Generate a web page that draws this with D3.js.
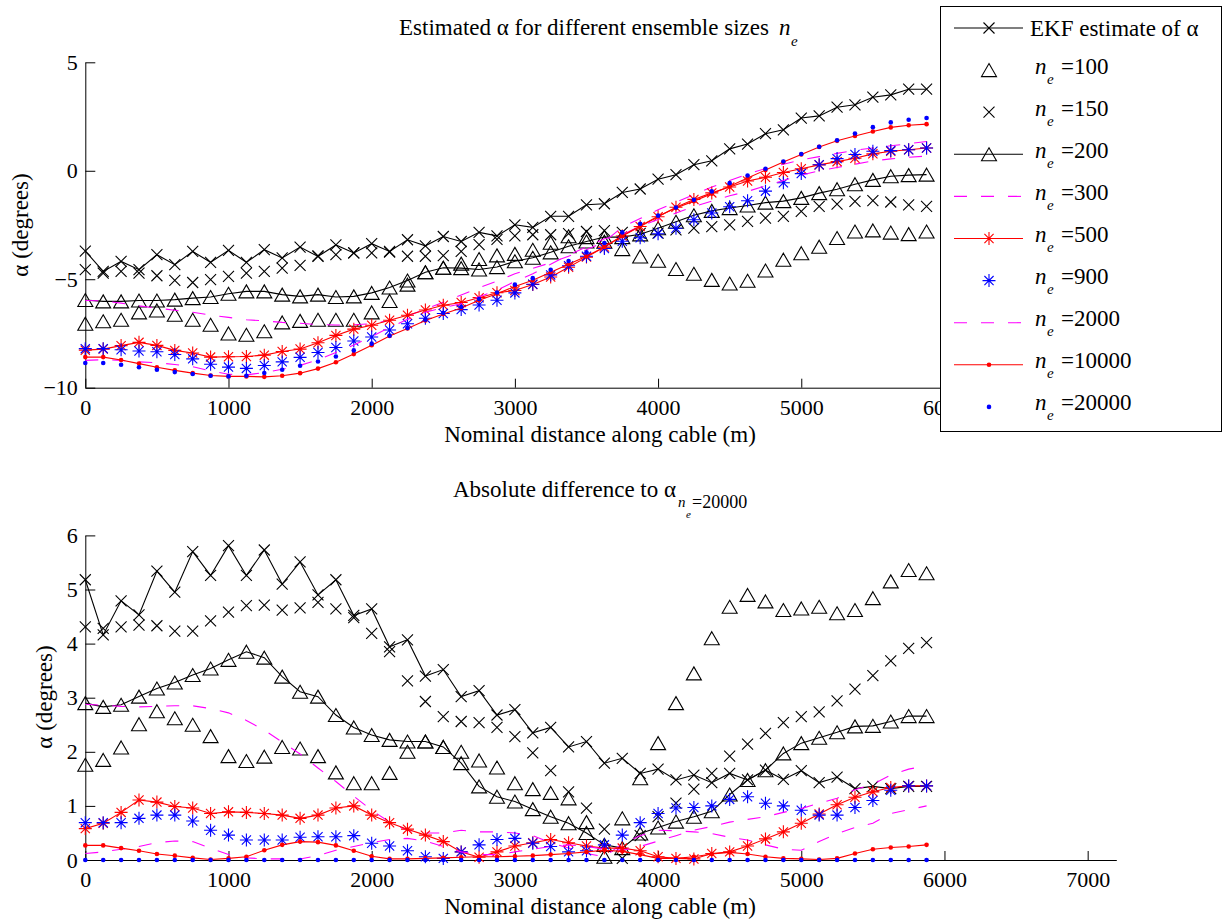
<!DOCTYPE html>
<html><head><meta charset="utf-8">
<script src="https://cdn.jsdelivr.net/npm/d3@7"></script>
<style>
body{margin:0;background:#fff}
svg{display:block}
text{font-family:"Liberation Serif","Times New Roman",serif;fill:#000}
</style>
</head><body>
<svg id="c" width="1223" height="921"></svg>
<script>
// ---------- DATA ----------
const distance = [0,125,250,375,500,625,750,875,1000,1125,1250,1375,1500,1625,1750,1875,2000,2125,2250,2375,2500,2625,2750,2875,3000,3125,3250,3375,3500,3625,3750,3875,4000,4125,4250,4375,4500,4625,4750,4875,5000,5125,5250,5375,5500,5625,5750,5875];

// Top panel: estimated alpha (degrees)
const ekfTop   = [-3.70,-4.64,-4.18,-4.56,-3.87,-4.33,-3.72,-4.22,-3.67,-4.22,-3.64,-4.02,-3.52,-3.95,-3.42,-3.79,-3.36,-3.72,-3.18,-3.46,-3.03,-3.26,-2.84,-3.00,-2.49,-2.61,-2.10,-2.10,-1.57,-1.52,-1.00,-0.84,-0.39,-0.18,0.28,0.46,1.01,1.23,1.71,1.89,2.43,2.53,2.93,3.04,3.39,3.50,3.76,3.76];
const n100Top  = [-7.05,-6.94,-6.87,-6.53,-6.44,-6.64,-6.87,-7.10,-7.50,-7.56,-7.40,-6.99,-6.92,-6.87,-6.87,-6.87,-6.53,-6.00,-5.25,-4.68,-4.47,-4.28,-4.07,-3.90,-3.83,-3.64,-3.32,-3.02,-3.06,-3.27,-3.61,-3.95,-4.15,-4.53,-4.75,-5.03,-5.20,-5.07,-4.60,-4.10,-3.80,-3.50,-3.10,-2.80,-2.75,-2.85,-2.92,-2.80];
const n150Top  = [-4.56,-4.72,-4.64,-4.72,-4.84,-5.05,-5.15,-5.02,-4.87,-4.72,-4.64,-4.49,-4.36,-3.92,-3.87,-3.79,-3.79,-3.75,-3.94,-3.94,-3.91,-3.72,-3.40,-3.16,-3.00,-2.95,-2.95,-2.90,-2.80,-2.76,-2.84,-2.89,-2.87,-2.72,-2.64,-2.57,-2.49,-2.33,-2.18,-2.10,-1.87,-1.64,-1.54,-1.41,-1.38,-1.44,-1.57,-1.64];
const n200Top  = [-5.96,-6.02,-6.02,-5.98,-5.98,-5.94,-5.87,-5.82,-5.67,-5.56,-5.56,-5.71,-5.79,-5.71,-5.82,-5.79,-5.63,-5.38,-5.06,-4.68,-4.47,-4.49,-4.55,-4.44,-4.17,-4.01,-3.76,-3.48,-3.26,-3.05,-3.06,-2.93,-2.65,-2.35,-2.05,-1.85,-1.72,-1.60,-1.47,-1.40,-1.25,-1.03,-0.85,-0.62,-0.42,-0.25,-0.20,-0.18];
const n300Top  = [-5.98,-6.00,-6.10,-6.23,-6.33,-6.43,-6.52,-6.65,-6.76,-6.87,-6.92,-6.99,-7.03,-7.09,-7.11,-7.10,-7.05,-6.90,-6.70,-6.37,-6.06,-5.73,-5.39,-5.09,-4.75,-4.50,-4.24,-3.94,-3.64,-3.27,-2.60,-2.20,-1.80,-1.45,-1.10,-0.75,-0.45,-0.15,0.10,0.30,0.50,0.65,0.80,0.95,1.05,1.15,1.25,1.35];
const n500Top  = [-8.27,-8.22,-8.06,-7.91,-8.05,-8.28,-8.40,-8.59,-8.57,-8.56,-8.50,-8.33,-8.22,-7.93,-7.59,-7.30,-7.12,-6.89,-6.66,-6.42,-6.20,-6.07,-5.85,-5.62,-5.52,-5.24,-4.90,-4.45,-3.98,-3.52,-3.01,-2.57,-2.12,-1.68,-1.32,-1.02,-0.75,-0.47,-0.30,-0.08,0.09,0.27,0.42,0.58,0.78,0.90,0.97,1.05];
const n900Top  = [-8.20,-8.20,-8.25,-8.31,-8.34,-8.47,-8.67,-8.92,-9.05,-9.11,-8.98,-8.81,-8.60,-8.38,-8.15,-7.85,-7.66,-7.34,-7.05,-6.80,-6.58,-6.40,-6.19,-5.97,-5.63,-5.23,-4.80,-4.38,-3.94,-3.58,-3.25,-3.09,-2.90,-2.65,-2.26,-1.95,-1.66,-1.38,-0.94,-0.55,-0.13,0.28,0.56,0.75,0.90,0.93,0.97,1.05];
const n2000Top = [-8.74,-8.71,-8.74,-8.81,-8.85,-8.93,-9.03,-9.23,-9.38,-9.41,-9.30,-9.15,-8.97,-8.71,-8.38,-8.03,-7.65,-7.22,-6.85,-6.52,-6.31,-6.13,-5.81,-5.51,-5.10,-4.75,-4.31,-3.88,-3.51,-3.13,-2.95,-2.55,-2.25,-1.95,-1.65,-1.40,-1.15,-0.95,-0.70,-0.45,-0.20,0.00,0.15,0.30,0.45,0.55,0.62,0.68];
const n10000Top= [-8.59,-8.59,-8.72,-8.89,-9.06,-9.20,-9.33,-9.44,-9.48,-9.48,-9.50,-9.45,-9.33,-9.12,-8.83,-8.45,-8.04,-7.62,-7.27,-6.90,-6.60,-6.33,-5.97,-5.67,-5.33,-5.05,-4.68,-4.31,-3.94,-3.51,-3.00,-2.54,-2.10,-1.72,-1.40,-1.06,-0.71,-0.33,0.03,0.40,0.75,1.10,1.38,1.60,1.81,2.00,2.10,2.15];
const n20000Top= [-8.86,-8.86,-8.94,-9.06,-9.17,-9.28,-9.37,-9.45,-9.48,-9.45,-9.32,-9.17,-8.99,-8.79,-8.56,-8.28,-7.97,-7.60,-7.25,-6.87,-6.56,-6.28,-5.91,-5.61,-5.25,-4.95,-4.56,-4.16,-3.76,-3.33,-2.84,-2.44,-2.07,-1.69,-1.34,-0.95,-0.57,-0.22,0.09,0.43,0.77,1.11,1.41,1.72,2.01,2.23,2.35,2.43];

// Bottom panel: absolute difference to alpha(n_e=20000)
const ekfDiff   = [5.18,4.16,4.79,4.53,5.34,4.95,5.70,5.26,5.81,5.26,5.73,5.10,5.51,4.90,5.18,4.52,4.64,3.94,4.07,3.40,3.52,3.02,3.13,2.68,2.78,2.35,2.45,2.09,2.19,1.79,1.88,1.60,1.68,1.48,1.57,1.43,1.60,1.48,1.66,1.49,1.65,1.43,1.53,1.32,1.36,1.32,1.36,1.36];
const n100Diff  = [1.76,1.85,2.08,2.51,2.75,2.62,2.50,2.29,1.92,1.83,1.91,2.09,2.06,1.92,1.62,1.42,1.42,1.61,2.00,2.19,2.09,2.00,1.84,1.71,1.42,1.31,1.24,1.14,0.70,0.06,0.77,1.51,2.16,2.90,3.45,4.10,4.68,4.90,4.78,4.62,4.65,4.68,4.56,4.62,4.84,5.15,5.36,5.30];
const n150Diff  = [4.31,4.28,4.31,4.34,4.33,4.23,4.23,4.42,4.58,4.70,4.71,4.62,4.66,4.76,4.64,4.48,4.19,3.85,3.31,2.93,2.65,2.56,2.54,2.45,2.28,1.98,1.65,1.26,0.96,0.57,0.03,0.45,0.80,1.05,1.31,1.60,1.92,2.14,2.34,2.54,2.65,2.74,2.94,3.16,3.41,3.68,3.91,4.02];
const n200Diff  = [2.90,2.83,2.87,3.02,3.17,3.28,3.42,3.54,3.70,3.85,3.74,3.39,3.11,3.02,2.68,2.45,2.31,2.22,2.19,2.19,2.09,1.79,1.36,1.17,1.08,0.94,0.80,0.68,0.50,0.28,0.22,0.49,0.60,0.71,0.80,0.90,1.21,1.48,1.66,1.97,2.16,2.26,2.36,2.47,2.48,2.56,2.66,2.66];
const n300Diff  = [2.88,2.86,2.84,2.83,2.84,2.85,2.85,2.80,2.72,2.58,2.40,2.18,1.96,1.70,1.45,1.18,0.92,0.70,0.55,0.50,0.50,0.55,0.52,0.52,0.50,0.45,0.32,0.22,0.12,0.06,0.30,0.45,0.55,0.54,0.52,0.49,0.42,0.37,0.28,0.20,0.18,0.34,0.49,0.60,0.68,0.86,0.93,1.00];
const n500Diff  = [0.58,0.68,0.88,1.11,1.07,0.99,0.96,0.86,0.89,0.88,0.86,0.83,0.77,0.83,0.96,1.00,0.83,0.69,0.57,0.46,0.34,0.15,0.05,0.15,0.26,0.32,0.38,0.32,0.26,0.22,0.22,0.17,0.06,0.03,0.02,0.12,0.15,0.26,0.39,0.52,0.68,0.85,1.02,1.16,1.26,1.34,1.37,1.37];
const n900Diff  = [0.69,0.69,0.69,0.77,0.83,0.83,0.72,0.55,0.46,0.37,0.37,0.37,0.42,0.43,0.43,0.45,0.31,0.26,0.17,0.06,0.03,0.15,0.28,0.38,0.40,0.31,0.25,0.15,0.17,0.28,0.46,0.69,0.86,0.96,0.97,1.00,1.12,1.17,1.05,1.00,0.92,0.83,0.83,0.97,1.10,1.29,1.37,1.37];
const n2000Diff = [0.12,0.15,0.20,0.25,0.32,0.35,0.34,0.22,0.10,0.04,0.02,0.02,0.02,0.08,0.18,0.25,0.32,0.38,0.40,0.35,0.25,0.15,0.10,0.10,0.15,0.20,0.25,0.28,0.25,0.20,0.18,0.25,0.35,0.45,0.55,0.62,0.70,0.75,0.80,0.88,0.95,1.05,1.14,1.30,1.40,1.57,1.68,1.74];
const n10000Diff= [0.27,0.27,0.22,0.17,0.11,0.08,0.04,0.01,0.03,0.06,0.18,0.28,0.34,0.33,0.27,0.17,0.07,0.02,0.02,0.03,0.04,0.05,0.06,0.06,0.07,0.08,0.10,0.12,0.15,0.18,0.16,0.10,0.03,0.03,0.06,0.11,0.14,0.11,0.06,0.03,0.02,0.01,0.03,0.12,0.20,0.23,0.25,0.28];
const n20000Diff= [0,0,0,0,0,0,0,0,0,0,0,0,0,0,0,0,0,0,0,0,0,0,0,0,0,0,0,0,0,0,0,0,0,0,0,0,0,0,0,0,0,0,0,0,0,0,0,0];

const xTicksTop = [0,1000,2000,3000,4000,5000,6000];
const xTicksBottom = [0,1000,2000,3000,4000,5000,6000,7000];
const yTicksTop = [-10,-5,0,5];
const yTicksBottom = [0,1,2,3,4,5,6];
const legendLabels = ["EKF estimate of \u03b1","100","150","200","300","500","900","2000","10000","20000"];

// ---------- STYLES ----------
const styles = [
  {line:true, color:"#000", dash:null, marker:"x"},
  {line:false,color:"#000", dash:null, marker:"tri"},
  {line:false,color:"#000", dash:null, marker:"x"},
  {line:true, color:"#000", dash:null, marker:"tri"},
  {line:true, color:"#ff00ff", dash:"13,14", marker:null},
  {line:true, color:"#ff0000", dash:null, marker:"star"},
  {line:false,color:"#0000ff", dash:null, marker:"star"},
  {line:true, color:"#ff00ff", dash:"13,14", marker:null},
  {line:true, color:"#ff0000", dash:null, marker:"dot"},
  {line:false,color:"#0000ff", dash:null, marker:"dot"}
];
const topSeries = [ekfTop,n100Top,n150Top,n200Top,n300Top,n500Top,n900Top,n2000Top,n10000Top,n20000Top];
const bottomSeries = [ekfDiff,n100Diff,n150Diff,n200Diff,n300Diff,n500Diff,n900Diff,n2000Diff,n10000Diff,n20000Diff];

const svg = d3.select("#c");
const X0 = 85.3, X1 = 1116.3;

function drawMarker(g, type, color, x, y) {
  if (type === "tri") {
    g.append("path").attr("d", `M${x},${y-6.5}L${x+7.5},${y+6.5}L${x-7.5},${y+6.5}Z`)
      .attr("fill","none").attr("stroke",color).attr("stroke-width",1.1);
  } else if (type === "x") {
    const s = 5.5;
    g.append("path").attr("d", `M${x-s},${y-s}L${x+s},${y+s}M${x-s},${y+s}L${x+s},${y-s}`)
      .attr("stroke",color).attr("stroke-width",1.1);
  } else if (type === "star") {
    const s = 6.5, d = 4.6;
    g.append("path").attr("d", `M${x-s},${y}L${x+s},${y}M${x},${y-s}L${x},${y+s}M${x-d},${y-d}L${x+d},${y+d}M${x-d},${y+d}L${x+d},${y-d}`)
      .attr("stroke",color).attr("stroke-width",1.1);
  } else if (type === "dot") {
    g.append("circle").attr("cx",x).attr("cy",y).attr("r",2.3).attr("fill",color);
  }
}

function drawPanel(series, yScale, yTicks, xTicks, axisY) {
  const x = d3.scaleLinear().domain([0,7200]).range([X0,X1]);
  const g = svg.append("g");
  const ax = d3.axisBottom(x).tickValues(xTicks).tickSizeInner(-9).tickSizeOuter(0).tickPadding(11.5).tickFormat(d3.format("d"));
  const gx = g.append("g").attr("transform",`translate(0,${axisY})`).call(ax);
  const ay = d3.axisLeft(yScale).tickValues(yTicks).tickSizeInner(-10).tickSizeOuter(0).tickPadding(7.5).tickFormat(d3.format("d"));
  const gy = g.append("g").attr("transform",`translate(${X0},0)`).call(ay);
  [gx,gy].forEach(a=>{
    a.attr("font-family",null).attr("font-size",null);
    a.selectAll("text").style("font-family","'Liberation Serif',serif").style("font-size","22px").attr("fill","#000");
    a.selectAll("line,path").attr("stroke","#000").attr("stroke-width",1);
  });
  series.forEach((vals,k)=>{
    const st = styles[k];
    const sg = g.append("g");
    const pts = distance.map((d,i)=>[x(d), yScale(vals[i])]);
    if (st.line) {
      sg.append("path").attr("d", d3.line()(pts)).attr("fill","none")
        .attr("stroke",st.color).attr("stroke-width",1.1)
        .attr("stroke-dasharray", st.dash);
    }
    if (st.marker) pts.forEach(p=>drawMarker(sg, st.marker, st.color, p[0], p[1]));
  });
}

const yTop = d3.scaleLinear().domain([-10,5]).range([387.7,62.3]);
const yBot = d3.scaleLinear().domain([0,6]).range([860,535.4]);
drawPanel(topSeries, yTop, yTicksTop, xTicksTop, 387.7);
drawPanel(bottomSeries, yBot, yTicksBottom, xTicksBottom, 860);

// titles & labels
const T = (x,y,size)=>svg.append("text").attr("x",x).attr("y",y).style("font-size",size+"px");
const t1 = T(399,35,23);
t1.append("tspan").text("Estimated \u03b1 for different ensemble sizes");
t1.append("tspan").attr("x",779).style("font-style","italic").text("n");
t1.append("tspan").attr("x",791).attr("dy",11).style("font-style","italic").style("font-size","15px").text("e");

const t2 = T(453,497,23);
t2.append("tspan").text("Absolute difference to \u03b1");
t2.append("tspan").attr("x",678).attr("dy",10).style("font-style","italic").style("font-size","15px").text("n");
t2.append("tspan").attr("x",686).attr("dy",11).style("font-style","italic").style("font-size","11px").text("e");
t2.append("tspan").attr("x",692).attr("dy",-10).style("font-size","18px").text("=20000");

T(600,442,23).attr("text-anchor","middle").text("Nominal distance along cable (m)");
T(600,913.5,23).attr("text-anchor","middle").text("Nominal distance along cable (m)");
svg.append("text").attr("transform","translate(28,225) rotate(-90)").attr("text-anchor","middle").style("font-size","23px").text("\u03b1 (degrees)");
svg.append("text").attr("transform","translate(51.5,697) rotate(-90)").attr("text-anchor","middle").style("font-size","23px").text("\u03b1 (degrees)");

// legend
const lg = svg.append("g");
lg.append("rect").attr("x",940.5).attr("y",6.5).attr("width",281).attr("height",425)
  .attr("fill","#fff").attr("stroke","#000").attr("stroke-width",1);
legendLabels.forEach((lab,k)=>{
  const st = styles[k];
  const y = 28 + k*42.1;
  if (st.line) lg.append("path").attr("d",`M954,${y}L1023,${y}`).attr("stroke",st.color)
      .attr("stroke-width",1.1).attr("stroke-dasharray",st.dash);
  if (st.marker) drawMarker(lg, st.marker, st.color, 989, y);
  if (k === 0) {
    lg.append("text").attr("x",1030).attr("y",y+7.5).style("font-size","23px").text(lab);
  } else {
    const t = lg.append("text").attr("x",1035).attr("y",y+3.5).style("font-size","23px");
    t.append("tspan").style("font-style","italic").text("n");
    t.append("tspan").attr("x",1047).attr("dy",10).style("font-style","italic").style("font-size","15px").text("e");
    t.append("tspan").attr("x",1061).attr("dy",-10).text("="+lab);
  }
});
</script>
</body></html>
